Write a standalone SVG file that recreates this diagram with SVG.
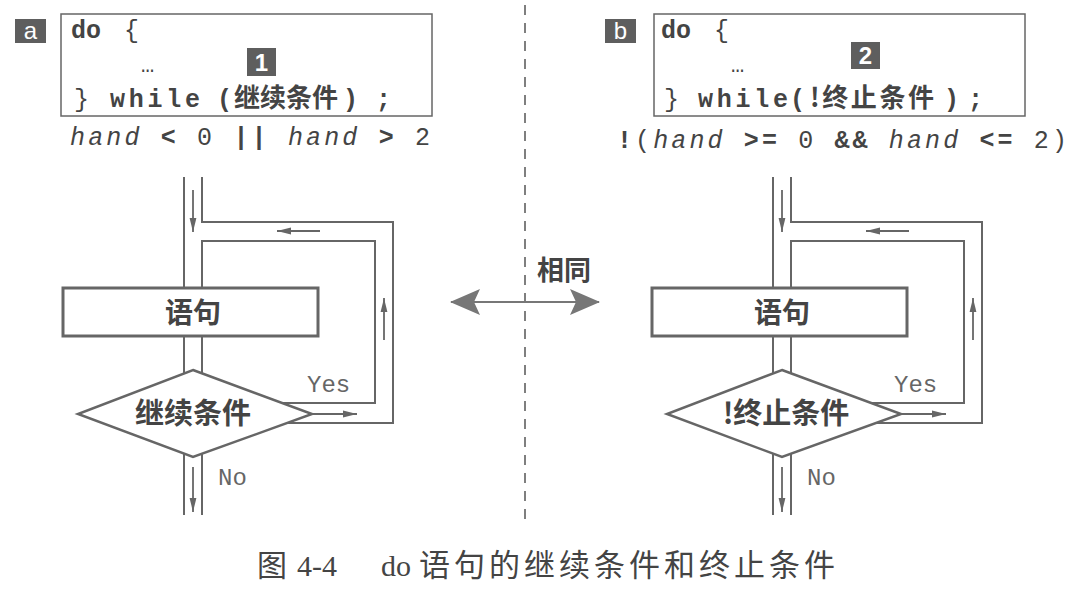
<svg xmlns="http://www.w3.org/2000/svg" width="1080" height="598" viewBox="0 0 1080 598">
<style>
.mono{font-family:"Liberation Mono","DejaVu Sans Mono",monospace;fill:#444}
.b{font-weight:700}
.it{font-style:italic}
.cjk{font-family:"Noto Sans CJK SC","Noto Sans",sans-serif;fill:#444}
.lbl{font-family:"Liberation Sans",Arial,sans-serif;fill:#fff}
.box{fill:#fff;stroke:#666;stroke-width:1.5}
.tag{fill:#5e5e5e}
.ln{fill:none;stroke:#666;stroke-width:2}
.ar{fill:none;stroke:#666;stroke-width:1.8}
.stmt{fill:#fff;stroke:#666;stroke-width:3}
.dia{fill:#fff;stroke:#666;stroke-width:2.5}
.yn{font-family:"Liberation Mono","DejaVu Sans Mono",monospace;fill:#666;font-size:24px}
</style>
<defs>
<marker id="ah" viewBox="0 0 14 8" refX="14" refY="4" markerWidth="14" markerHeight="8" markerUnits="userSpaceOnUse" orient="auto">
<path d="M0,0.6 L14,4 L0,7.4 z" fill="#666"/>
</marker>
<marker id="big" viewBox="0 0 30 26" refX="29" refY="13" markerWidth="30" markerHeight="26" markerUnits="userSpaceOnUse" orient="auto-start-reverse">
<path d="M0,0 L30,13 L0,26 L6,13 z" fill="#777"/>
</marker>
</defs>
<rect width="1080" height="598" fill="#fff"/>

<!-- Panel a code -->
<g id="tag-a"><rect class="tag" x="15" y="19" width="31" height="24"/><text class="lbl" x="30.5" y="39" font-size="24" text-anchor="middle">a</text></g>
<g id="code-a">
<rect class="box" x="61" y="14" width="371" height="102"/>
<text class="mono" font-size="25" y="38"><tspan class="b" x="71">do</tspan><tspan x="124">{</tspan></text>
<text class="mono" font-size="22" x="141" y="72">…</text>
<text class="mono" font-size="25" y="107"><tspan x="74">}</tspan></text>
<text class="mono b" font-size="25" x="110" y="107" textLength="90" lengthAdjust="spacing">while</text>
<text class="mono b" font-size="25" x="217" y="107">(</text>
<text class="cjk b" font-size="26" x="234" y="107" textLength="104" lengthAdjust="spacing">继续条件</text>
<text class="mono b" font-size="25" x="343" y="107">)</text>
<text class="mono b" font-size="25" x="376" y="107">;</text>
</g>
<g id="num-1"><rect class="tag" x="247" y="48" width="29" height="28"/><text class="lbl" x="261.5" y="71" font-size="24" font-weight="700" text-anchor="middle">1</text></g>
<text class="mono" font-size="25" x="70" y="145" textLength="360" lengthAdjust="spacing" fill="#555"><tspan class="it">hand</tspan> <tspan class="b">&lt;</tspan> 0 <tspan class="b">||</tspan> <tspan class="it">hand</tspan> <tspan class="b">&gt;</tspan> 2</text>

<!-- Panel b code -->
<g id="tag-b"><rect class="tag" x="605" y="19" width="31" height="24"/><text class="lbl" x="620.5" y="39" font-size="24" text-anchor="middle">b</text></g>
<g id="code-b">
<rect class="box" x="654" y="14" width="371" height="102"/>
<text class="mono" font-size="25" y="38"><tspan class="b" x="661">do</tspan><tspan x="714">{</tspan></text>
<text class="mono" font-size="22" x="731" y="72">…</text>
<text class="mono" font-size="25" y="107"><tspan x="664">}</tspan></text>
<text class="mono b" font-size="25" x="698" y="107" textLength="90" lengthAdjust="spacing">while</text>
<text class="mono b" font-size="25" x="790" y="107">(</text>
<text class="cjk b" font-size="26" x="810" y="107" textLength="124" lengthAdjust="spacing">!终止条件</text>
<text class="mono b" font-size="25" x="944" y="107">)</text>
<text class="mono b" font-size="25" x="968" y="107">;</text>
</g>
<g id="num-2"><rect class="tag" x="851" y="42" width="29" height="27"/><text class="lbl" x="865.5" y="64" font-size="24" font-weight="700" text-anchor="middle">2</text></g>
<text class="mono" font-size="25" x="617" y="148" textLength="450" lengthAdjust="spacing" fill="#555"><tspan class="b">!</tspan>(<tspan class="it">hand</tspan> <tspan class="b">&gt;=</tspan> 0 <tspan class="b">&amp;&amp;</tspan> <tspan class="it">hand</tspan> <tspan class="b">&lt;=</tspan> 2)</text>

<!-- Connectors -->
<g id="connectors">
<g id="flow-a">
<path class="ln" d="M184,177 V288 M184,336 V373.4 M184,453.6 V515"/>
<path class="ln" d="M202,177 V222 H393 V423 H286"/>
<path class="ln" d="M202,288 V241 H375 V403 H282"/>
<path class="ln" d="M202,336 V373.3 M202,453.6 V515"/>
<path class="ar" d="M193,190 V232" marker-end="url(#ah)"/>
<path class="ar" d="M320,231 H277" marker-end="url(#ah)"/>
<path class="ar" d="M384,340 V298" marker-end="url(#ah)"/>
<path class="ar" d="M312,414 H357" marker-end="url(#ah)"/>
<path class="ar" d="M193,467 V512" marker-end="url(#ah)"/>
</g>
<g id="flow-b" transform="translate(589,0)">
<path class="ln" d="M184,177 V288 M184,336 V373.4 M184,453.6 V515"/>
<path class="ln" d="M202,177 V222 H393 V423 H286"/>
<path class="ln" d="M202,288 V241 H375 V403 H282"/>
<path class="ln" d="M202,336 V373.3 M202,453.6 V515"/>
<path class="ar" d="M193,190 V232" marker-end="url(#ah)"/>
<path class="ar" d="M320,231 H277" marker-end="url(#ah)"/>
<path class="ar" d="M384,340 V298" marker-end="url(#ah)"/>
<path class="ar" d="M312,414 H357" marker-end="url(#ah)"/>
<path class="ar" d="M193,467 V512" marker-end="url(#ah)"/>
</g>
<path d="M525,5 V520" fill="none" stroke="#555" stroke-width="1.5" stroke-dasharray="10 8"/>
<path d="M451,302 H599" fill="none" stroke="#777" stroke-width="2" marker-start="url(#big)" marker-end="url(#big)"/>
</g>

<!-- Flow a nodes -->
<g id="stmt-a"><rect class="stmt" x="63" y="288" width="255" height="48"/><text class="cjk b" font-size="28" x="193" y="323" text-anchor="middle">语句</text></g>
<g id="cond-a"><polygon class="dia" points="193,370 312,414 193,457 78,414"/><text class="cjk b" font-size="29" x="193" y="424" text-anchor="middle">继续条件</text></g>
<text class="yn" x="307" y="392">Yes</text>
<text class="yn" x="218" y="485">No</text>

<!-- Flow b nodes -->
<g id="stmt-b"><rect class="stmt" x="652" y="288" width="255" height="48"/><text class="cjk b" font-size="28" x="782" y="323" text-anchor="middle">语句</text></g>
<g id="cond-b"><polygon class="dia" points="782,370 901,414 782,457 667,414"/><text class="cjk b" font-size="29" x="786" y="424" text-anchor="middle">!终止条件</text></g>
<text class="yn" x="894" y="392">Yes</text>
<text class="yn" x="807" y="485">No</text>

<text class="cjk b" font-size="27" x="537" y="280">相同</text>

<g id="caption">
<text class="cjk" font-size="30" x="257" y="576" fill="#444">图</text>
<text font-family="Liberation Serif,serif" font-size="30" x="297" y="576" fill="#444">4-4</text>
<text font-family="Liberation Serif,serif" font-size="30" x="381" y="576" fill="#444">do</text>
<text class="cjk" font-size="31" x="419" y="576" textLength="416" lengthAdjust="spacing">语句的继续条件和终止条件</text>
</g>
</svg>
